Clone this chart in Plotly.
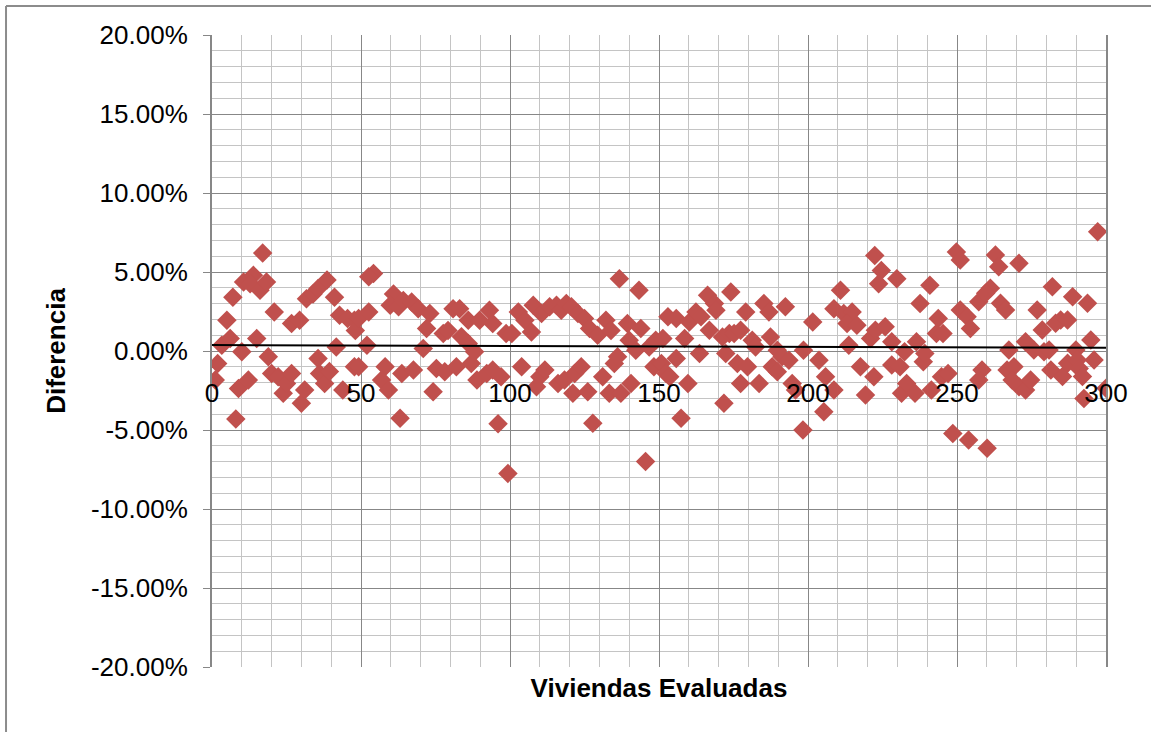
import plotly.graph_objects as go

# Data (x = vivienda index, y = diferencia in %)
viviendas = [
    1.1, 1.9, 3.3, 6.1, 5.0, 7.0, 8.0, 8.9, 10.0, 12.2, 10.6, 13.9, 12.8, 15.0, 17.0, 16.1, 18.3, 18.9,
    20.9, 20.0, 22.2, 23.9, 25.0, 26.7, 26.7, 29.4, 30.0, 31.1, 31.7, 33.9, 35.6, 35.6, 36.1, 37.8,
    39.4, 38.6, 41.1, 41.7, 43.9, 42.8, 45.5, 47.8, 47.8,
    48.1, 49.2, 52.6, 52.0, 54.2, 52.6, 49.2, 58.1, 56.9, 59.2, 63.1, 60.9, 59.8, 62.6, 64.2, 67.0,
    69.2, 73.1, 72.0, 70.9, 63.7, 67.6, 74.2, 75.3, 77.6, 79.2, 78.1, 80.9, 83.1, 82.0, 83.7, 86.0,
    86.0, 87.0, 88.1, 89.8, 93.1, 94.2, 88.9, 92.2, 94.2, 97.0, 96.0, 99.3, 98.7,
    100.6, 102.8, 103.9, 105.0, 107.2, 107.8, 110.0, 108.9, 111.7, 110.6, 113.3, 115.6, 117.2, 118.9,
    120.6, 116.1, 118.3, 121.1, 121.7, 123.9, 122.8, 125.0, 126.1, 126.7, 127.8, 129.4, 131.1, 132.2,
    133.3, 133.9, 135.0, 136.1, 136.7, 137.2, 139.4, 140.6, 140.0, 142.2, 143.3, 143.9, 145.5, 146.7,
    148.3, 148.9,
    150.8, 151.3, 153.0, 155.8, 155.8, 152.4, 153.6, 157.4, 159.7, 158.6, 160.2, 162.4, 164.1, 163.6,
    166.3, 166.9, 168.6, 169.1, 171.3, 171.8, 172.4, 173.6, 174.1, 175.2, 176.3, 177.4, 177.4, 179.1,
    179.7, 181.3, 182.4, 183.6, 185.2, 186.9, 187.4, 188.0, 189.7, 189.7, 191.3, 192.4, 193.6, 194.7,
    198.5, 198.3, 195.8,
    201.6, 203.7, 205.9, 208.7, 205.3, 210.9, 208.7, 212.0, 214.8, 213.1, 216.4, 213.7, 217.6, 219.3,
    221.0, 222.1, 222.4, 222.6, 224.6, 223.7, 225.9, 228.1, 229.8, 228.1, 230.9, 231.4, 233.1, 235.9,
    232.4, 236.4, 237.6, 238.7, 239.2, 240.9, 241.4, 243.7, 243.1, 245.3, 244.8, 247.0, 248.6, 249.8,
    251.1, 251.1, 253.4, 254.5, 253.9, 260.1, 257.3, 261.2, 259.6, 262.9, 264.0, 264.6, 266.3, 258.4,
    257.3, 267.4, 266.8, 269.1, 268.5, 270.8, 270.8, 273.0, 274.7, 273.0, 275.8, 276.9, 278.6, 279.2,
    280.9, 281.5, 282.0, 283.1, 284.8, 285.4, 287.1, 287.1, 288.8, 289.9, 290.4, 291.0, 292.1, 292.6,
    293.8, 294.9, 296.0, 297.2, 300.0,
]
diferencia = [
    -1.84, -0.79, 0.37, 0.79, 1.95, 3.4, -4.3, -2.37, -0.05, -1.84, 4.37, 4.79, 4.26, 0.79, 6.2, 3.84, 4.37, -0.37,
    2.47, -1.42, -1.63, -2.68, -2.05, -1.42, 1.74, 1.95, -3.3, -2.47, 3.3, 3.6, 3.95, -0.47, -1.42, -2.05,
    -1.3, 4.5, 3.4, 0.26, -2.47, 2.26, 2.05, -1.0, 1.95,
    1.3, 2.05, 2.47, 0.37, 4.9, 4.7, -1.0, -1.0, -1.84, -2.47, -4.26, 3.6, 2.9, 2.8, 3.2, 3.1,
    2.68, 2.37, 1.42, 0.16, -1.42, -1.2, -2.58, -1.1, 1.1, 1.3, -1.32, 2.68, 2.68, -1.0, 0.9, 1.95,
    0.47, -0.79, -0.05, 1.95, 2.58, 1.74, -1.84, -1.42, -1.2, -1.63, -4.6, -7.75, 1.1,
    1.1, 2.47, -1.0, 1.95, 1.2, 2.9, -1.63, -2.26, -1.2, 2.37, 2.8, 2.9, 2.58, 3.0,
    2.8, -2.05, -1.84, -2.68, -1.42, -1.0, 2.37, 2.05, -2.58, 1.42, -4.58, 1.0, -1.63, 1.95,
    -2.68, 1.3, -0.79, -0.37, 4.58, -2.68, 1.74, -2.05, 0.68, 0.05, 3.84, 1.42, -7.0, 0.26,
    -1.0, 0.68,
    -0.79, 0.79, 2.16, 2.05, -0.47, -1.42, -1.63, -4.26, -2.05, 0.79, 1.84, 2.47, 2.16, -0.16,
    3.53, 1.32, 3.0, 2.58, 0.89, -3.3, -0.16, 1.1, 3.74, 1.1, -0.79, -2.05, 1.32, 2.47,
    -1.0, 0.68, 0.26, -2.05, 3.0, 2.47, 0.89, -1.0, 0.05, -1.32, -0.37, 2.8, -0.58, -2.05,
    0.05, -5.0, -2.47,
    1.84, -0.58, -1.63, -2.47, -3.84, 3.84, 2.68, 2.37, 2.47, 1.74, 1.63, 0.37, -1.0, -2.79,
    0.79, -1.63, 6.05, 1.32, 5.1, 4.26, 1.53, 0.58, 4.58, -0.89, -1.0, -2.68, -2.05, -2.68,
    -0.05, 0.58, 3.0, -0.68, -0.16, 4.16, -2.47, 2.05, 1.1, 1.1, -1.63, -1.42, -5.22, 6.27,
    5.76, 2.6, 2.17, 1.43, -5.63, -6.16, 3.12, 3.97, 3.65, 6.08, 5.34, 3.02, 2.6, -1.2,
    -1.84, 0.06, -1.2, -0.99, -1.84, 5.55, -2.26, -2.47, -1.84, 0.59, 0.06, 2.6, 1.33, -0.04,
    0.06, -1.2, 4.07, 1.75, 1.96, -1.62, 1.96, -0.78, 3.44, 0.06, -0.57, -1.1, -1.62, -3.0,
    3.02, 0.7, -0.57, 7.55, -2.36,
]

# Linear trend line (endpoints)
tendencia_x = [0, 300]
tendencia_y = [0.38, 0.21]

# Axis ticks
x_ticks = [0, 50, 100, 150, 200, 250, 300]
x_labels = ["0", "50", "100", "150", "200", "250", "300"]
y_ticks = [-20, -15, -10, -5, 0, 5, 10, 15, 20]
y_labels = ["-20.00%", "-15.00%", "-10.00%", "-5.00%", "0.00%", "5.00%", "10.00%", "15.00%", "20.00%"]

FONT = "Liberation Sans, Arial, sans-serif"
MAJOR = "#878787"
MINOR = "#c4c4c4"

fig = go.Figure()
fig.add_trace(go.Scatter(
    x=viviendas, y=diferencia, mode="markers",
    marker=dict(symbol="diamond", size=15, color="#C0504D", line=dict(width=0)),
    showlegend=False, hoverinfo="x+y",
))
fig.add_trace(go.Scatter(
    x=tendencia_x, y=tendencia_y, mode="lines", xaxis="x2",
    line=dict(color="#000000", width=2), showlegend=False, hoverinfo="skip",
))

fig.update_layout(
    template="none",
    width=1151, height=732, autosize=False,
    paper_bgcolor="white", plot_bgcolor="white",
    margin=dict(l=212, r=45, t=35, b=65),
    font=dict(family=FONT, size=26, color="#000000"),
    xaxis=dict(
        range=[0, 300], tickmode="array", tickvals=x_ticks, ticktext=x_labels,
        anchor="free", position=0.5, side="bottom",
        showline=False, zeroline=False, ticks="", ticklabelstandoff=24,
        showgrid=True, gridcolor=MAJOR, gridwidth=1,
        minor=dict(tickmode="linear", tick0=0, dtick=10, showgrid=True, gridcolor=MINOR, gridwidth=1),
        tickfont=dict(family=FONT, size=26, color="#000000"),
        automargin=False, fixedrange=True,
    ),
    xaxis2=dict(
        range=[0, 300], overlaying="x", anchor="y", side="bottom",
        showgrid=False, zeroline=False, showticklabels=False, ticks="",
        showline=False,
        title=dict(text="Viviendas Evaluadas", standoff=11,
                   font=dict(family=FONT, size=26, color="#000000", weight="bold")),
        automargin=False, fixedrange=True,
    ),
    yaxis=dict(
        range=[-20, 20], tickmode="array", tickvals=y_ticks, ticktext=y_labels,
        showline=True, linecolor=MAJOR, linewidth=2, mirror=True,
        zeroline=False, ticks="outside", ticklen=7, tickcolor=MAJOR, tickwidth=1,
        ticklabelstandoff=10,
        showgrid=True, gridcolor=MAJOR, gridwidth=1,
        minor=dict(tickmode="linear", tick0=0, dtick=1, showgrid=True, gridcolor=MINOR, gridwidth=1),
        tickfont=dict(family=FONT, size=26, color="#000000"),
        title=dict(text="Diferencia", standoff=18,
                   font=dict(family=FONT, size=26, color="#000000", weight="bold")),
        automargin=False, fixedrange=True,
    ),
    shapes=[
        dict(type="line", xref="paper", yref="paper", x0=-0.2304, x1=-0.2304, y0=1.0459, y1=-0.2,
             line=dict(color="#8c8c8c", width=2)),
        dict(type="line", xref="paper", yref="paper", x0=-0.2304, x1=1.1, y0=1.0459, y1=1.0459,
             line=dict(color="#8c8c8c", width=2)),
    ],
)

fig.write_html(
    "out.html",
    config={"displayModeBar": False},
    post_script="document.body.style.margin='0';document.body.style.overflow='hidden';",
)
